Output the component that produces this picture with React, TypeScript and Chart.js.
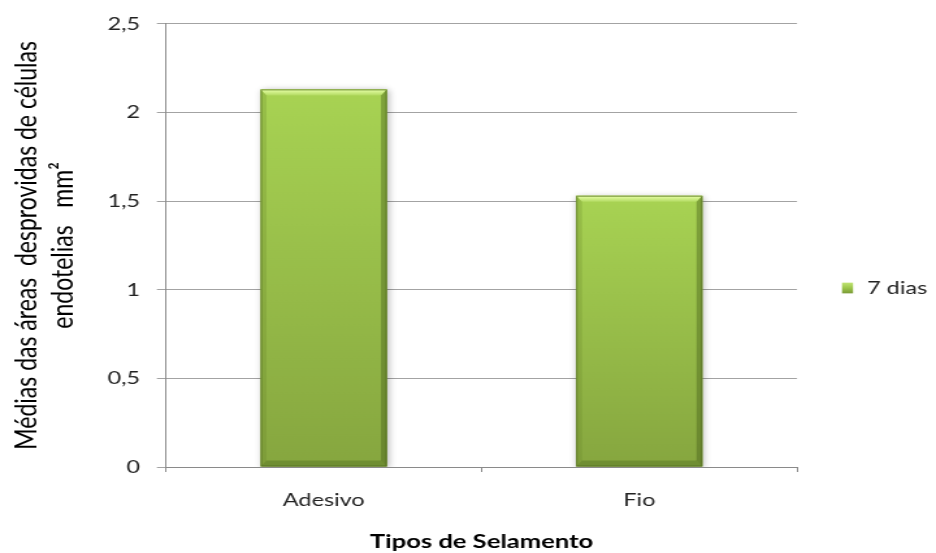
import { useEffect, useRef } from "react";
import { Chart, registerables } from "chart.js";

Chart.register(...registerables);

// ---- data ----
const categories = ["Adesivo", "Fio"];
const seriesLabel = "7 dias";
const seriesValues = [2.13, 1.53];
const yTickLabels = ["0", "0,5", "1", "1,5", "2", "2,5"];
const yTitleLines = ["Médias das áreas  desprovidas de células", "endotelias   mm²"];
const xTitle = "Tipos de Selamento";

// ---- layout (canvas drawn narrow, then widened by CSS) ----
const CANVAS_W = 720;
const CANVAS_H = 553;
const DISPLAY_W = 936;
const PLOT_LEFT = 127.7;
const PLOT_RIGHT = 613.1;
const PLOT_TOP = 20;
const X_AXIS_H = 86;
const FONT = "Lato, 'Open Sans', sans-serif";
const TEXT = "#222222";
const GRID = "#a3a3a3";
const AXIS = "#8a8a8a";

type Pt = [number, number];

function fillPoly(c: CanvasRenderingContext2D, pts: Pt[], style: string | CanvasGradient) {
  c.beginPath();
  c.moveTo(pts[0][0], pts[0][1]);
  for (let i = 1; i < pts.length; i++) c.lineTo(pts[i][0], pts[i][1]);
  c.closePath();
  c.fillStyle = style;
  c.fill();
}

// Draws the bars with a soft drop shadow, a vertical gradient and bevelled edges.
const bevelBars = {
  id: "bevelBars",
  beforeDatasetsDraw(chart: any) {
    const c = chart.ctx as CanvasRenderingContext2D;
    c.save();
    c.shadowColor = "rgba(0,0,0,0.30)";
    c.shadowBlur = 6;
    c.shadowOffsetX = 1;
    c.shadowOffsetY = 1;
  },
  afterDatasetsDraw(chart: any) {
    const c = chart.ctx as CanvasRenderingContext2D;
    c.restore();
    chart.data.datasets.forEach((_ds: any, i: number) => {
      const meta = chart.getDatasetMeta(i);
      meta.data.forEach((el: any) => {
        const { x, y, base, width } = el.getProps(["x", "y", "base", "width"], true);
        const l = x - width / 2;
        const r = x + width / 2;
        const t = Math.min(y, base);
        const b = Math.max(y, base);
        const body = c.createLinearGradient(0, t, 0, b);
        body.addColorStop(0, "#a8d353");
        body.addColorStop(1, "#86a63f");
        c.fillStyle = body;
        c.fillRect(l, t, r - l, b - t);

        const bx = 4.5;
        const by = 6;
        const top = c.createLinearGradient(0, t, 0, t + by);
        top.addColorStop(0, "#bfe273");
        top.addColorStop(0.25, "#dcf798");
        top.addColorStop(1, "#b3db62");
        fillPoly(c, [[l, t], [r, t], [r - bx, t + by], [l + bx, t + by]], top);
        fillPoly(c, [[l, t], [l + bx, t + by], [l + bx, b - by], [l, b]], "rgba(95,125,35,0.22)");
        fillPoly(c, [[r, t], [r - bx, t + by], [r - bx, b - by], [r, b]], "rgba(60,85,20,0.38)");
        fillPoly(c, [[l, b], [l + bx, b - by], [r - bx, b - by], [r, b]], "rgba(60,85,20,0.30)");
        c.strokeStyle = "rgba(70,95,25,0.55)";
        c.lineWidth = 1;
        c.strokeRect(l + 0.5, t + 0.5, r - l - 1, b - t - 1);
      });
    });
  },
};

// Legend entry on the right-hand side.
const sideLegend = {
  id: "sideLegend",
  afterDraw(chart: any) {
    const c = chart.ctx as CanvasRenderingContext2D;
    const cy = 288;
    const bx = 647.7;
    const bw = 8.5;
    const bh = 10.7;
    chart.data.datasets.forEach((ds: any, i: number) => {
      const y = cy + i * 24;
      const g = c.createLinearGradient(0, y - bh / 2, 0, y + bh / 2);
      g.addColorStop(0, "#c0e474");
      g.addColorStop(0.5, "#9cc64a");
      g.addColorStop(1, "#7a9a37");
      c.save();
      c.fillStyle = g;
      c.fillRect(bx, y - bh / 2, bw, bh);
      c.fillStyle = TEXT;
      c.font = `18px ${FONT}`;
      c.textAlign = "left";
      c.textBaseline = "middle";
      c.fillText(ds.label, 667, y);
      c.restore();
    });
  },
};

export default function App() {
  const ref = useRef<HTMLCanvasElement>(null);

  useEffect(() => {
    document.body.style.margin = "0";
    const canvas = ref.current;
    if (!canvas) return;
    const chart = new Chart(canvas, {
      type: "bar",
      data: {
        labels: categories,
        datasets: [
          {
            label: seriesLabel,
            data: seriesValues,
            backgroundColor: "#97bd48",
            borderWidth: 0,
            categoryPercentage: 0.4,
            barPercentage: 1,
          },
        ],
      },
      options: {
        responsive: false,
        animation: false,
        devicePixelRatio: 1,
        events: [],
        layout: { padding: { top: PLOT_TOP, right: CANVAS_W - PLOT_RIGHT, bottom: 0, left: 0 } },
        plugins: { legend: { display: false }, tooltip: { enabled: false } },
        scales: {
          x: {
            afterFit: (s: any) => {
              s.height = X_AXIS_H;
            },
            border: { display: true, color: AXIS, width: 1 },
            grid: { display: true, drawOnChartArea: false, drawTicks: true, tickLength: 5, color: AXIS, offset: true },
            ticks: { color: TEXT, font: { family: FONT, size: 18 }, padding: 17, maxRotation: 0 },
            title: {
              display: true,
              text: xTitle,
              color: "#000",
              font: { family: FONT, size: 19.7, weight: "bold", lineHeight: 1 },
              padding: { top: 0, bottom: 1.5 },
            },
          },
          y: {
            min: 0,
            max: 2.5,
            afterFit: (s: any) => {
              s.width = PLOT_LEFT;
            },
            border: { display: true, color: AXIS, width: 1 },
            grid: { color: GRID, drawTicks: true, tickLength: 7 },
            ticks: {
              stepSize: 0.5,
              padding: 13,
              color: TEXT,
              font: { family: FONT, size: 18 },
              callback: (_v: any, i: number) => yTickLabels[i],
            },
            title: {
              display: true,
              text: yTitleLines,
              color: "#000",
              font: { family: FONT, size: 23, lineHeight: 1.248 },
              padding: { top: 5.8, bottom: 0 },
            },
          },
        },
      },
      plugins: [bevelBars, sideLegend],
    } as any);
    return () => chart.destroy();
  }, []);

  return (
    <div style={{ width: DISPLAY_W, height: CANVAS_H }}>
      <canvas
        ref={ref}
        width={CANVAS_W}
        height={CANVAS_H}
        style={{ width: `${DISPLAY_W}px`, height: `${CANVAS_H}px`, display: "block" }}
      />
    </div>
  );
}
